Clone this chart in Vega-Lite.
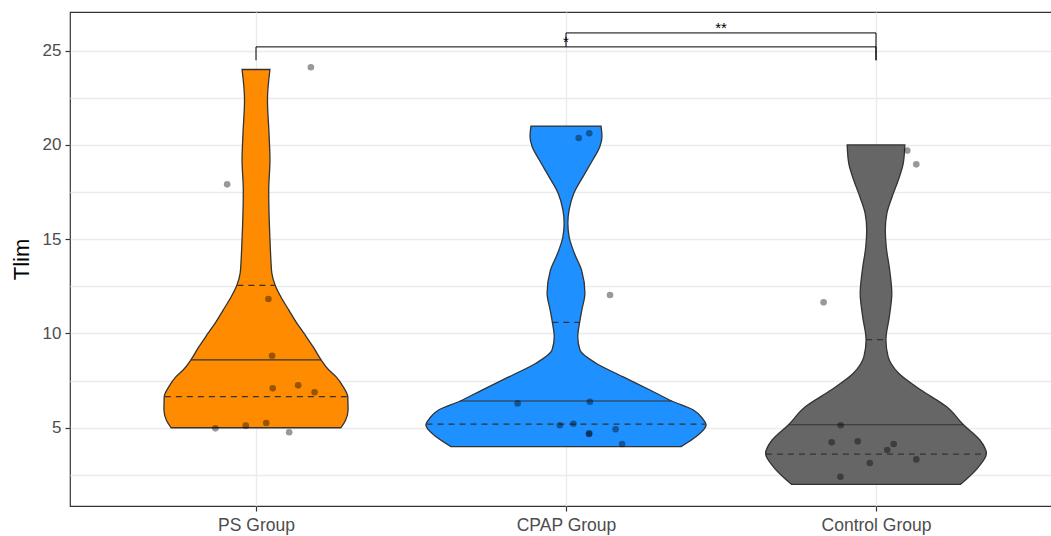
{
  "$schema": "https://vega.github.io/schema/vega-lite/v6.json",
  "width": 992,
  "height": 494,
  "autosize": {"type": "none"},
  "padding": {"left": 70, "top": 12, "right": 0, "bottom": 30},
  "background": "white",
  "config": {
    "view": {"stroke": "#333333", "strokeWidth": 1.2},
    "font": "Liberation Sans",
    "axis": {"labelFont": "Liberation Sans", "titleFont": "Liberation Sans"}
  },
  "datasets": {
    "violin": [
      {"g": "PS Group", "v": 5.0, "x": 0.726, "x2": 1.274},
      {"g": "PS Group", "v": 5.4, "x": 0.711, "x2": 1.289},
      {"g": "PS Group", "v": 5.95, "x": 0.703, "x2": 1.297},
      {"g": "PS Group", "v": 6.65, "x": 0.704, "x2": 1.296},
      {"g": "PS Group", "v": 7.18, "x": 0.719, "x2": 1.281},
      {"g": "PS Group", "v": 7.71, "x": 0.742, "x2": 1.258},
      {"g": "PS Group", "v": 8.06, "x": 0.765, "x2": 1.235},
      {"g": "PS Group", "v": 8.6, "x": 0.79, "x2": 1.21},
      {"g": "PS Group", "v": 9.3, "x": 0.816, "x2": 1.184},
      {"g": "PS Group", "v": 10.0, "x": 0.845, "x2": 1.155},
      {"g": "PS Group", "v": 10.62, "x": 0.871, "x2": 1.129},
      {"g": "PS Group", "v": 11.24, "x": 0.894, "x2": 1.106},
      {"g": "PS Group", "v": 11.95, "x": 0.92, "x2": 1.08},
      {"g": "PS Group", "v": 12.55, "x": 0.938, "x2": 1.062},
      {"g": "PS Group", "v": 13.2, "x": 0.949, "x2": 1.051},
      {"g": "PS Group", "v": 13.9, "x": 0.952, "x2": 1.048},
      {"g": "PS Group", "v": 15.0, "x": 0.955, "x2": 1.045},
      {"g": "PS Group", "v": 15.84, "x": 0.957, "x2": 1.043},
      {"g": "PS Group", "v": 17.6, "x": 0.959, "x2": 1.041},
      {"g": "PS Group", "v": 19.2, "x": 0.955, "x2": 1.045},
      {"g": "PS Group", "v": 20.6, "x": 0.958, "x2": 1.042},
      {"g": "PS Group", "v": 22.4, "x": 0.963, "x2": 1.037},
      {"g": "PS Group", "v": 24.0, "x": 0.955, "x2": 1.045},
      {"g": "CPAP Group", "v": 4.0, "x": 1.629, "x2": 2.371},
      {"g": "CPAP Group", "v": 4.52, "x": 1.581, "x2": 2.419},
      {"g": "CPAP Group", "v": 5.14, "x": 1.548, "x2": 2.452},
      {"g": "CPAP Group", "v": 5.5, "x": 1.56, "x2": 2.44},
      {"g": "CPAP Group", "v": 5.94, "x": 1.589, "x2": 2.411},
      {"g": "CPAP Group", "v": 6.42, "x": 1.659, "x2": 2.341},
      {"g": "CPAP Group", "v": 7.0, "x": 1.729, "x2": 2.271},
      {"g": "CPAP Group", "v": 7.71, "x": 1.817, "x2": 2.183},
      {"g": "CPAP Group", "v": 8.42, "x": 1.903, "x2": 2.097},
      {"g": "CPAP Group", "v": 9.12, "x": 1.955, "x2": 2.045},
      {"g": "CPAP Group", "v": 9.83, "x": 1.962, "x2": 2.038},
      {"g": "CPAP Group", "v": 10.59, "x": 1.956, "x2": 2.044},
      {"g": "CPAP Group", "v": 11.24, "x": 1.949, "x2": 2.051},
      {"g": "CPAP Group", "v": 12.13, "x": 1.939, "x2": 2.061},
      {"g": "CPAP Group", "v": 13.37, "x": 1.95, "x2": 2.05},
      {"g": "CPAP Group", "v": 14.25, "x": 1.973, "x2": 2.027},
      {"g": "CPAP Group", "v": 15.13, "x": 1.99, "x2": 2.01},
      {"g": "CPAP Group", "v": 15.84, "x": 1.994, "x2": 2.006},
      {"g": "CPAP Group", "v": 16.55, "x": 1.99, "x2": 2.01},
      {"g": "CPAP Group", "v": 17.43, "x": 1.975, "x2": 2.025},
      {"g": "CPAP Group", "v": 18.32, "x": 1.945, "x2": 2.055},
      {"g": "CPAP Group", "v": 19.2, "x": 1.914, "x2": 2.086},
      {"g": "CPAP Group", "v": 19.9, "x": 1.891, "x2": 2.109},
      {"g": "CPAP Group", "v": 20.44, "x": 1.884, "x2": 2.116},
      {"g": "CPAP Group", "v": 21.0, "x": 1.887, "x2": 2.113},
      {"g": "Control Group", "v": 2.0, "x": 2.727, "x2": 3.273},
      {"g": "Control Group", "v": 2.93, "x": 2.669, "x2": 3.331},
      {"g": "Control Group", "v": 3.64, "x": 2.644, "x2": 3.356},
      {"g": "Control Group", "v": 4.35, "x": 2.665, "x2": 3.335},
      {"g": "Control Group", "v": 5.16, "x": 2.718, "x2": 3.282},
      {"g": "Control Group", "v": 6.11, "x": 2.772, "x2": 3.228},
      {"g": "Control Group", "v": 7.0, "x": 2.855, "x2": 3.145},
      {"g": "Control Group", "v": 7.89, "x": 2.927, "x2": 3.073},
      {"g": "Control Group", "v": 8.77, "x": 2.961, "x2": 3.039},
      {"g": "Control Group", "v": 9.67, "x": 2.968, "x2": 3.032},
      {"g": "Control Group", "v": 10.89, "x": 2.957, "x2": 3.043},
      {"g": "Control Group", "v": 12.13, "x": 2.949, "x2": 3.051},
      {"g": "Control Group", "v": 13.37, "x": 2.956, "x2": 3.044},
      {"g": "Control Group", "v": 14.6, "x": 2.967, "x2": 3.033},
      {"g": "Control Group", "v": 15.49, "x": 2.97, "x2": 3.03},
      {"g": "Control Group", "v": 16.37, "x": 2.965, "x2": 3.035},
      {"g": "Control Group", "v": 17.25, "x": 2.948, "x2": 3.052},
      {"g": "Control Group", "v": 18.14, "x": 2.928, "x2": 3.072},
      {"g": "Control Group", "v": 19.03, "x": 2.912, "x2": 3.088},
      {"g": "Control Group", "v": 20.0, "x": 2.907, "x2": 3.093}
    ],
    "quant": [
      {"g": "PS Group", "v": 6.65, "x": 0.706, "x2": 1.294, "k": "dash"},
      {"g": "PS Group", "v": 8.6, "x": 0.79, "x2": 1.21, "k": "solid"},
      {"g": "PS Group", "v": 12.55, "x": 0.94, "x2": 1.06, "k": "dash"},
      {"g": "CPAP Group", "v": 5.19, "x": 1.55, "x2": 2.45, "k": "dash"},
      {"g": "CPAP Group", "v": 6.42, "x": 1.659, "x2": 2.341, "k": "solid"},
      {"g": "CPAP Group", "v": 10.59, "x": 1.956, "x2": 2.044, "k": "dash"},
      {"g": "Control Group", "v": 3.6, "x": 2.645, "x2": 3.355, "k": "dash"},
      {"g": "Control Group", "v": 5.16, "x": 2.718, "x2": 3.282, "k": "solid"},
      {"g": "Control Group", "v": 9.67, "x": 2.968, "x2": 3.032, "k": "dash"}
    ],
    "points": [
      {"g": "PS Group", "x": 1.177, "v": 24.12},
      {"g": "PS Group", "x": 0.907, "v": 17.91},
      {"g": "PS Group", "x": 1.04, "v": 11.83},
      {"g": "PS Group", "x": 1.052, "v": 8.82},
      {"g": "PS Group", "x": 1.054, "v": 7.09},
      {"g": "PS Group", "x": 1.136, "v": 7.25},
      {"g": "PS Group", "x": 1.189, "v": 6.88},
      {"g": "PS Group", "x": 0.869, "v": 4.97},
      {"g": "PS Group", "x": 0.967, "v": 5.11},
      {"g": "PS Group", "x": 1.033, "v": 5.25},
      {"g": "PS Group", "x": 1.107, "v": 4.76},
      {"g": "CPAP Group", "x": 2.075, "v": 20.62},
      {"g": "CPAP Group", "x": 2.041, "v": 20.37},
      {"g": "CPAP Group", "x": 2.142, "v": 12.04},
      {"g": "CPAP Group", "x": 1.844, "v": 6.29},
      {"g": "CPAP Group", "x": 2.077, "v": 6.38},
      {"g": "CPAP Group", "x": 1.98, "v": 5.13},
      {"g": "CPAP Group", "x": 2.024, "v": 5.21},
      {"g": "CPAP Group", "x": 2.074, "v": 4.67},
      {"g": "CPAP Group", "x": 2.075, "v": 4.7},
      {"g": "CPAP Group", "x": 2.16, "v": 4.92},
      {"g": "CPAP Group", "x": 2.181, "v": 4.14},
      {"g": "Control Group", "x": 3.101, "v": 19.7},
      {"g": "Control Group", "x": 3.13, "v": 18.97},
      {"g": "Control Group", "x": 2.831, "v": 11.65},
      {"g": "Control Group", "x": 2.886, "v": 5.13},
      {"g": "Control Group", "x": 2.857, "v": 4.23},
      {"g": "Control Group", "x": 2.941, "v": 4.28},
      {"g": "Control Group", "x": 3.057, "v": 4.14},
      {"g": "Control Group", "x": 3.036, "v": 3.82},
      {"g": "Control Group", "x": 3.13, "v": 3.32},
      {"g": "Control Group", "x": 2.98, "v": 3.13},
      {"g": "Control Group", "x": 2.885, "v": 2.4}
    ],
    "brackets": [
      {"x": 1, "x2": 3, "v": 25.2, "v2": 25.2},
      {"x": 1, "x2": 1, "v": 24.49, "v2": 25.2},
      {"x": 3, "x2": 3, "v": 24.49, "v2": 25.2},
      {"x": 2, "x2": 3, "v": 25.94, "v2": 25.94},
      {"x": 2, "x2": 2, "v": 25.2, "v2": 25.94},
      {"x": 3, "x2": 3, "v": 24.49, "v2": 25.94}
    ],
    "sig": [
      {"x": 2, "v": 25.2, "label": "*"},
      {"x": 2.5, "v": 25.94, "label": "**"}
    ]
  },
  "encoding": {
    "x": {
      "field": "x",
      "type": "quantitative",
      "stack": null,
      "scale": {"domain": [0.4, 3.6], "nice": false, "zero": false},
      "axis": {
        "title": null,
        "values": [1, 2, 3],
        "labelExpr": "datum.value == 1 ? 'PS Group' : datum.value == 2 ? 'CPAP Group' : 'Control Group'",
        "labelFontSize": 17.5,
        "labelColor": "#4D4D4D",
        "labelPadding": 5,
        "tickSize": 5,
        "tickColor": "#333333",
        "tickWidth": 1.2,
        "domain": false,
        "grid": true,
        "gridColor": "#EBEBEB",
        "gridWidth": 1.4
      }
    },
    "y": {
      "field": "v",
      "type": "quantitative",
      "stack": null,
      "scale": {"domain": [0.85, 27.05], "nice": false, "zero": false},
      "axis": {
        "title": "Tlim",
        "titleFontSize": 22,
        "titleFontWeight": "normal",
        "titleColor": "#000000",
        "titlePadding": 9,
        "values": [2.5, 5, 7.5, 10, 12.5, 15, 17.5, 20, 22.5, 25],
        "labelExpr": "datum.value % 5 == 0 ? datum.label : ''",
        "labelFontSize": 17,
        "labelColor": "#4D4D4D",
        "labelPadding": 4,
        "tickSize": 5,
        "tickColor": "#333333",
        "tickWidth": 1.2,
        "tickOpacity": {"condition": {"test": "datum.value % 5 != 0", "value": 0}, "value": 1},
        "domain": false,
        "grid": true,
        "gridColor": "#EBEBEB",
        "gridWidth": 1.4
      }
    }
  },
  "layer": [
    {
      "data": {"name": "violin"},
      "mark": {"type": "area", "orient": "horizontal", "interpolate": "monotone", "stroke": "#333333", "strokeWidth": 1.3, "opacity": 1},
      "encoding": {
        "x2": {"field": "x2"},
        "color": {
          "field": "g",
          "type": "nominal",
          "scale": {"domain": ["PS Group", "CPAP Group", "Control Group"], "range": ["#FF8C00", "#1E90FF", "#666666"]},
          "legend": null
        }
      }
    },
    {
      "data": {"name": "quant"},
      "mark": {"type": "rule", "color": "#333333", "strokeWidth": 1.2},
      "encoding": {
        "x2": {"field": "x2"},
        "strokeDash": {
          "field": "k",
          "type": "nominal",
          "scale": {"domain": ["solid", "dash"], "range": [[1, 0], [6, 5]]},
          "legend": null
        }
      }
    },
    {
      "data": {"name": "points"},
      "mark": {"type": "circle", "color": "#000000", "opacity": 0.4, "size": 44}
    },
    {
      "data": {"name": "brackets"},
      "mark": {"type": "rule", "color": "#000000", "strokeWidth": 1},
      "encoding": {
        "x2": {"field": "x2"},
        "y2": {"field": "v2"}
      }
    },
    {
      "data": {"name": "sig"},
      "mark": {"type": "text", "fontSize": 15, "color": "#000000", "baseline": "alphabetic", "dy": 0, "font": "Liberation Sans"},
      "encoding": {
        "text": {"field": "label"}
      }
    }
  ]
}
